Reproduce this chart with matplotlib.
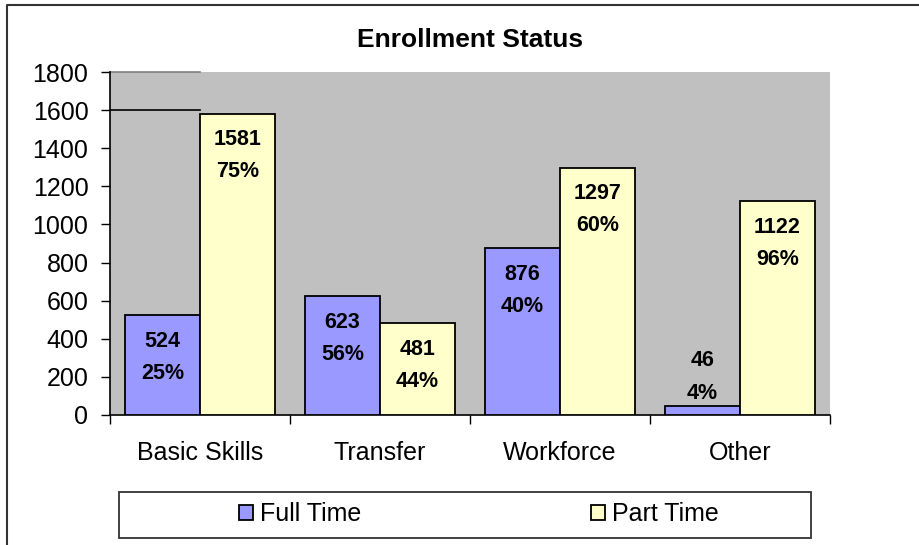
import matplotlib
matplotlib.use("Agg")
import numpy as np
import matplotlib.pyplot as plt
from matplotlib.patches import Rectangle
from matplotlib.lines import Line2D

categories = ["Basic Skills", "Transfer", "Workforce", "Other"]
full_time = [524, 623, 876, 46]
part_time = [1581, 481, 1297, 1122]
full_pct = [25, 56, 40, 4]
part_pct = [75, 44, 60, 96]
yticks = [0, 200, 400, 600, 800, 1000, 1200, 1400, 1600, 1800]

plt.rcParams["font.family"] = ["Liberation Sans", "DejaVu Sans"]

W, H = 920, 545
fig = plt.figure(figsize=(W / 100, H / 100), dpi=100)
ax = fig.add_axes([110 / W, 1 - 415 / H, 720 / W, 343 / H])
ax.set_facecolor("#c0c0c0")

x = np.arange(len(categories))
width = 75 / 180
b1 = ax.bar(x - width / 2, full_time, width, color="#9999ff", edgecolor="black",
            linewidth=1.3, label="Full Time", zorder=3)
b2 = ax.bar(x + width / 2, part_time, width, color="#ffffcc", edgecolor="black",
            linewidth=1.3, label="Part Time", zorder=3)

# stray gridline fragments at the top left
for v in [1600, 1800]:
    ax.plot([-0.5, 0.0], [v, v], color="black" if v == 1600 else "#808080",
            linewidth=1.2, zorder=2, clip_on=False)

def label_bars(bars, values, pcts):
    for rect, v, p in zip(bars, values, pcts):
        cx = rect.get_x() + rect.get_width() / 2
        if v < 200:
            offs = [46, 13]
        else:
            offs = [-26, -58]
        for txt, off in zip([str(v), "%d%%" % p], offs):
            ax.annotate(txt, xy=(cx, v), xytext=(0, off), textcoords="offset pixels",
                        ha="center", va="center", fontsize=15.5, fontweight="bold", zorder=4)

label_bars(b1, full_time, full_pct)
label_bars(b2, part_time, part_pct)

ax.set_xlim(-0.5, len(categories) - 0.5)
ax.set_ylim(0, 1800)
ax.set_yticks(yticks)
ax.set_yticklabels([str(t) for t in yticks], fontsize=18)
ax.set_xticks(x)
ax.set_xticklabels(categories, fontsize=18)
ax.tick_params(axis="x", length=0, pad=19)
ax.set_xticks(np.arange(len(categories) + 1) - 0.5, minor=True)
ax.tick_params(axis="x", which="minor", length=6.5, direction="out", width=1)
ax.tick_params(axis="y", length=6.5, direction="out", width=1, pad=9)
for s in ["top", "right"]:
    ax.spines[s].set_visible(False)
ax.spines["left"].set_linewidth(1.2)
ax.spines["bottom"].set_linewidth(1.2)

fig.text(470 / W, 1 - 40 / H, "Enrollment Status", ha="center", va="center",
         fontsize=19, fontweight="bold")

# outer chart frame
fig.add_artist(Line2D([7 / W, 7 / W, 1.0], [0.0, 1 - 5 / H, 1 - 5 / H],
                      transform=fig.transFigure, color="#333333", linewidth=1.5))

# legend box
fig.add_artist(Rectangle((119 / W, 1 - 538 / H), 692 / W, 46 / H, transform=fig.transFigure,
                         facecolor="white", edgecolor="#333333", linewidth=1.3))
fig.legend(handles=[b1, b2], loc="center", bbox_to_anchor=(479 / W, 1 - 514 / H),
           ncol=2, frameon=False, fontsize=18, handlelength=0.55, handleheight=0.55,
           handletextpad=0.3, columnspacing=9.2)

fig.savefig("out.png", dpi=100)
